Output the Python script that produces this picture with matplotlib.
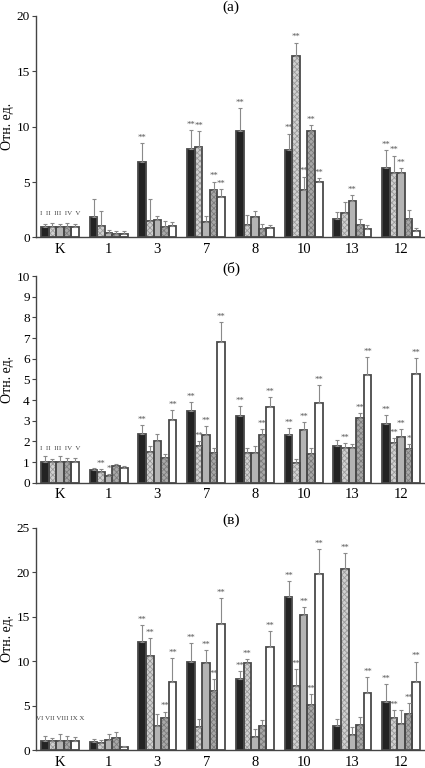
import matplotlib
matplotlib.use("Agg")
import matplotlib.pyplot as plt
import numpy as np

plt.rcParams["font.family"] = ["Liberation Serif", "DejaVu Serif"]
plt.rcParams["hatch.linewidth"] = 0.6

groups = ["K", "1", "3", "7", "8", "10", "13", "12"]

# panel (а): bar heights and upper error lengths, series I..V
a_vals = [
    [0.9, 1.85, 6.85, 7.97, 9.6, 7.87, 1.63, 6.24],
    [0.9, 1.06, 1.5, 8.15, 1.09, 16.4, 2.2, 5.79],
    [0.9, 0.42, 1.55, 1.42, 1.85, 4.25, 3.29, 5.79],
    [0.9, 0.33, 0.94, 4.25, 0.76, 9.6, 1.09, 1.66],
    [0.9, 0.3, 1.06, 3.65, 0.88, 4.98, 0.76, 0.58],
]
a_errs = [
    [0.35, 1.65, 1.65, 1.7, 2.05, 1.5, 0.7, 1.63],
    [0.45, 1.3, 2.0, 1.43, 0.96, 1.2, 1.03, 1.6],
    [0.3, 0.28, 0.42, 0.48, 0.55, 1.25, 0.51, 0.49],
    [0.45, 0.27, 0.56, 0.79, 0.44, 0.57, 0.57, 0.82],
    [0.35, 0.25, 0.34, 0.73, 0.27, 0.39, 0.36, 0.3],
]
a_stars = [
    ["", "", "**", "**", "**", "**", "", "**"],
    ["", "", "", "**", "", "**", "", "**"],
    ["", "", "", "", "", "**", "**", "**"],
    ["", "", "", "**", "", "**", "", ""],
    ["", "", "", "**", "", "**", "", ""],
]

# panel (б)
b_vals = [
    [0.98, 0.6, 2.37, 3.48, 3.23, 2.31, 1.77, 2.82],
    [0.98, 0.5, 1.5, 1.76, 1.45, 0.95, 1.69, 1.94],
    [0.98, 0.31, 2.02, 2.3, 1.45, 2.55, 1.66, 2.19],
    [0.98, 0.79, 1.21, 1.45, 2.29, 1.4, 3.13, 1.65],
    [0.98, 0.73, 3.03, 6.79, 3.66, 3.84, 5.19, 5.27],
]
b_errs = [
    [0.31, 0.13, 0.42, 0.41, 0.46, 0.35, 0.28, 0.44],
    [0.17, 0.15, 0.26, 0.26, 0.24, 0.18, 0.21, 0.21],
    [0.32, 0.11, 0.32, 0.44, 0.34, 0.4, 0.23, 0.39],
    [0.2, 0.11, 0.19, 0.24, 0.29, 0.26, 0.24, 0.22],
    [0.2, 0.09, 0.47, 0.97, 0.47, 0.89, 0.87, 0.75],
]
b_stars = [
    ["", "", "**", "**", "**", "**", "", "**"],
    ["", "**", "", "**", "", "", "**", "**"],
    ["", "*", "", "**", "", "**", "", "**"],
    ["", "", "", "", "**", "", "**", "*"],
    ["", "", "**", "**", "**", "**", "**", "**"],
]

# panel (в), series VI..X
c_vals = [
    [1.05, 0.94, 12.14, 9.86, 8.02, 17.24, 2.7, 5.43],
    [1.05, 0.82, 10.53, 2.62, 9.75, 7.2, 20.35, 3.56],
    [1.05, 1.16, 2.7, 9.82, 1.5, 15.14, 1.69, 2.89],
    [1.05, 1.31, 3.64, 6.67, 2.7, 5.1, 2.81, 4.09],
    [1.05, 0.37, 7.61, 14.17, 11.62, 19.79, 6.37, 7.68],
]
c_errs = [
    [0.52, 0.26, 1.92, 2.14, 0.83, 1.76, 0.75, 1.96],
    [0.25, 0.3, 2.03, 0.83, 0.48, 1.9, 1.75, 0.94],
    [0.71, 0.6, 1.31, 1.43, 0.82, 0.94, 0.93, 1.57],
    [0.49, 0.68, 0.67, 1.31, 0.63, 1.2, 0.94, 1.16],
    [0.37, 0.12, 2.69, 2.89, 1.76, 2.81, 1.8, 2.25],
]
c_stars = [
    ["", "", "**", "**", "**", "**", "", "**"],
    ["", "", "**", "", "**", "**", "**", "**"],
    ["", "", "", "**", "", "**", "", ""],
    ["", "", "**", "**", "", "**", "", "**"],
    ["", "", "**", "**", "**", "**", "**", "**"],
]

roman_top = "I  II  III  IV  V"
roman_bottom = "VI VII VIII IX X"

fills = ["#232323", "#d0d0d0", "#b4b4b4", "#a8a8a8", "#ffffff"]
hatches = [None, "xxxxxx", None, "xxxxxx", None]
hatch_cols = [None, "#9a9a9a", None, "#7c7c7c", None]
edge = "#4a4a4a"

fig = plt.figure(figsize=(4.25, 7.68), dpi=100)

panels = [
    ("(а)", a_vals, a_errs, a_stars, 20, 5, roman_top, 2.2, [0.0847, 0.6908, 0.9153, 0.2884], 7),
    ("(б)", b_vals, b_errs, b_stars, 10, 1, roman_top, 1.66, [0.0847, 0.3715, 0.9153, 0.2691], 269),
    ("(в)", c_vals, c_errs, c_stars, 25, 5, roman_bottom, 3.6, [0.0847, 0.0234, 0.9153, 0.2895], 520),
]

x = np.arange(len(groups))
w = 0.155

for title, vals, errs, stars, ymax, ystep, romans, ry, rect, ty in panels:
    ax = fig.add_axes(rect)
    for i in range(5):
        xi = x + (i - 2) * w
        if hatches[i]:
            ax.bar(xi, vals[i], w, color=fills[i], edgecolor=hatch_cols[i],
                   hatch=hatches[i], linewidth=0, zorder=2)
        else:
            ax.bar(xi, vals[i], w, color=fills[i], linewidth=0, zorder=2)
        ax.bar(xi, vals[i], w, fill=False, edgecolor=edge, linewidth=1.3, zorder=3)
        ax.errorbar(xi, vals[i], yerr=[np.zeros(len(groups)), errs[i]],
                    fmt="none", ecolor="#8a8a8a", elinewidth=0.8, capsize=1.6,
                    capthick=0.8, zorder=4)
        for j in range(len(groups)):
            if stars[i][j]:
                ax.text(xi[j], vals[i][j] + errs[i][j] + ymax * 0.006, stars[i][j],
                        ha="center", va="bottom", fontsize=6.3, color="#555555", zorder=5)
    ax.text(x[0], ry, romans, ha="center", va="center", fontsize=5, color="#444444")
    ax.set_xlim(-0.49, 7.49)
    ax.set_ylim(0, ymax)
    ax.set_yticks(np.arange(0, ymax + 0.01, ystep))
    ax.set_xticks(x)
    ax.set_xticklabels(groups, fontsize=10.5)
    ax.tick_params(axis="x", length=0, pad=4)
    ax.tick_params(axis="y", labelsize=9.5, length=3, direction="out", pad=1.5, color="#444444")
    for s in ["top", "right"]:
        ax.spines[s].set_visible(False)
    for s in ["left", "bottom"]:
        ax.spines[s].set_color("#444444")
        ax.spines[s].set_linewidth(1.0)
    ax.set_ylabel("Отн. ед.", fontsize=10)
    ax.yaxis.set_label_coords(-22 / 389, 0.5)
    fig.text(231 / 425, 1 - ty / 768, title, ha="center", va="center", fontsize=11)

fig.savefig("out.png", dpi=100)
